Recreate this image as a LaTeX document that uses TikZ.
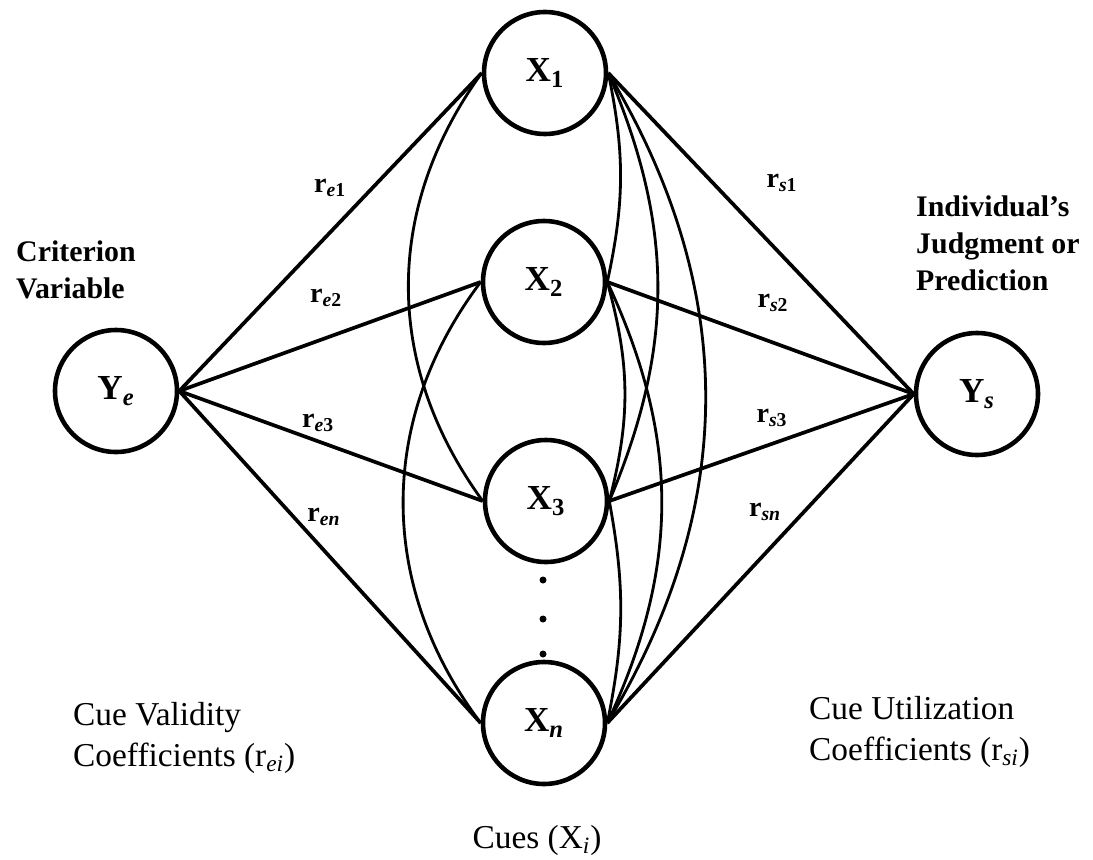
\documentclass[tikz,border=0pt]{standalone}
\usepackage{fontspec}
\setmainfont{Liberation Serif}
\usepackage{tikz}
\usetikzlibrary{positioning}

\begin{document}
\begin{tikzpicture}[cue/.style={draw, circle, line width=2.6pt, minimum size=2.44cm, inner sep=0pt,
                      font=\fontsize{20}{24}\selectfont\bfseries},
                    coef/.style={font=\fontsize{16}{18}\selectfont\bfseries},
                    caption/.style={align=left, anchor=west, font=\fontsize{19}{23}\selectfont},
                    heading/.style={align=left, anchor=west, font=\fontsize{17}{21}\selectfont\bfseries},
                    link/.style={line width=2.1pt},
                    arc/.style={line width=1.6pt}]

                \useasboundingbox (0,0) rectangle (21.86,-17.18);

                % Nodes
                \node at (2.32,-7.82) [cue] (ye) {Y\textsubscript{\textit{e}}};
                \node at (10.9,-1.46) [cue] (x1) {X\textsubscript{1}};
                \node at (10.88,-5.64) [cue] (x2) {X\textsubscript{2}};
                \node at (10.92,-10.02) [cue] (x3) {X\textsubscript{3}};
                \node at (10.88,-14.46) [cue] (xn) {X\textsubscript{\textit{n}}};
                \node at (19.54,-7.88) [cue] (ys) {Y\textsubscript{\textit{s}}};

                % Labels
                \node at (0.2,-5.4) [heading] (crit) {Criterion\\Variable};
                \node at (18.2,-4.86) [heading] (judg) {Individual's\\Judgment or\\Prediction};
                \node at (1.34,-14.76) [caption] (valid) {Cue Validity\\Coefficients (r\textsubscript{\textit{ei}})};
                \node at (16.06,-14.64) [caption] (util) {Cue Utilization\\Coefficients (r\textsubscript{\textit{si}})};
                \node at (10.74,-16.8) [font=\fontsize{19}{23}\selectfont] (cues) {Cues (X\textsubscript{\textit{i}})};

                % Coefficients
                \node at (6.6,-3.76) [coef] (re1) {r\textsubscript{\textit{e}1}};
                \node at (6.52,-5.96) [coef] (re2) {r\textsubscript{\textit{e}2}};
                \node at (6.36,-8.46) [coef] (re3) {r\textsubscript{\textit{e}3}};
                \node at (6.48,-10.34) [coef] (ren) {r\textsubscript{\textit{en}}};
                \node at (15.64,-3.66) [coef] (rs1) {r\textsubscript{\textit{s}1}};
                \node at (15.46,-6.06) [coef] (rs2) {r\textsubscript{\textit{s}2}};
                \node at (15.44,-8.36) [coef] (rs3) {r\textsubscript{\textit{s}3}};
                \node at (15.3,-10.24) [coef] (rsn) {r\textsubscript{\textit{sn}}};

                % Lines
                \foreach \c in {x1,x2,x3,xn} {
                    \draw[link] (ye.east) -- (\c.west);
                    \draw[link] (\c.east) -- (ys.west);
                }

                % Intercorrelations among cues
                \draw[arc] (x1.west) to[bend right=36] (x3.west);
                \draw[arc] (x2.west) to[bend right=37] (xn.west);
                \draw[arc] (x1.east) to[bend left=12] (x2.east);
                \draw[arc] (x1.east) to[bend left=23] (x3.east);
                \draw[arc] (x1.east) to[bend left=31] (xn.east);
                \draw[arc] (x2.east) to[bend left=15] (x3.east);
                \draw[arc] (x2.east) to[bend left=25] (xn.east);
                \draw[arc] (x3.east) to[bend left=11] (xn.east);

                % More cues
                \foreach \y in {-11.6,-12.38,-13.08}
                    \fill (10.86,\y) circle (0.07);

            \end{tikzpicture}
\end{document}
